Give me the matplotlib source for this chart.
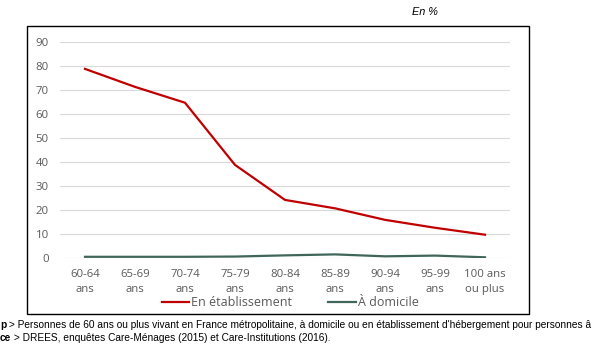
"""
Part des 60 ans ou plus vivant en établissement ou à domicile, par âge.
"""
import matplotlib.pyplot as plt
from matplotlib.patches import Rectangle

W, H = 600, 356

ages = ["60-64\nans", "65-69\nans", "70-74\nans", "75-79\nans", "80-84\nans",
        "85-89\nans", "90-94\nans", "95-99\nans", "100 ans\nou plus"]
etablissement = [78.8, 71.3, 64.7, 38.8, 24.2, 20.7, 15.9, 12.6, 9.7]
domicile = [0.5, 0.5, 0.5, 0.6, 1.1, 1.5, 0.7, 1.0, 0.3]
yticks = [0, 10, 20, 30, 40, 50, 60, 70, 80, 90]

note_champ = ("p", " > Personnes de 60 ans ou plus vivant en France métropolitaine, "
              "à domicile ou en établissement d'hébergement pour personnes â")
note_source = ("ce", " > DREES, enquêtes Care-Ménages (2015) et Care-Institutions (2016).")

plt.rcParams['font.family'] = ['Open Sans', 'DejaVu Sans']
fig = plt.figure(figsize=(W / 100, H / 100), dpi=100)

# plot area in pixels: x 60..510, y 42..258
ax = fig.add_axes([60 / W, 1 - 258 / H, 450 / W, 216 / H])
x = list(range(len(ages)))
ax.plot(x, etablissement, color='#C00000', lw=1.6, label="En établissement", solid_joinstyle='round')
ax.plot(x, domicile, color='#3F6659', lw=1.6, label="À domicile", solid_joinstyle='round')

ax.set_xlim(-0.5, len(ages) - 0.5)
ax.set_ylim(0, 90)
ax.set_yticks(yticks)
ax.set_xticks(x)
ax.set_xticklabels(ages, linespacing=1.45)
ax.grid(axis='y', color='#D9D9D9', lw=0.8)
ax.set_axisbelow(True)
for s in ax.spines.values():
    s.set_visible(False)
ax.tick_params(length=0, colors='#595959', labelsize=8.2)
ax.tick_params(axis='y', pad=8)
ax.tick_params(axis='x', pad=8)

fig.legend(loc='center', bbox_to_anchor=(290 / W, 1 - 303 / H), ncol=2, frameon=False,
           fontsize=9, handlelength=2.2, handletextpad=0.15, columnspacing=2.9,
           labelcolor='#595959', borderpad=0)

# chart frame
fig.patches.append(Rectangle((27 / W, 1 - 314 / H), 502 / W, 288 / H, fill=False,
                             edgecolor='black', lw=1.0, transform=fig.transFigure))

fig.text(425 / W, 1 - 12 / H, "En %", ha='center', va='center', fontsize=7.8,
         style='italic', family='Liberation Sans')

# footer notes, bold label then regular text
fig.canvas.draw()
r = fig.canvas.get_renderer()
for (bold, rest), yy in [(note_champ, 325), (note_source, 338)]:
    t = fig.text(0, 1 - yy / H, bold, ha='left', va='center', fontsize=7.25,
                 weight='bold', family='Liberation Sans')
    x1 = t.get_window_extent(r).x1 / W
    fig.text(x1, 1 - yy / H, rest, ha='left', va='center', fontsize=7.25,
             family='Liberation Sans')

fig.savefig("out.png", dpi=100)
